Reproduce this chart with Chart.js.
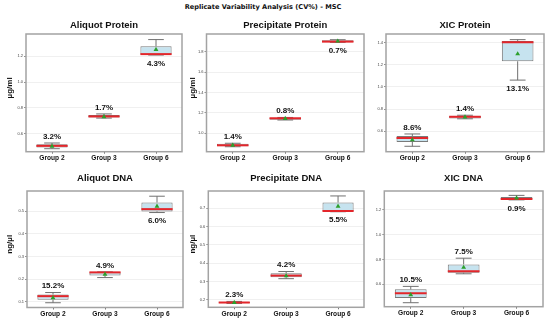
<!DOCTYPE html>
<html><head><meta charset="utf-8">
<script src="https://cdn.jsdelivr.net/npm/chart.js@4.4.1/dist/chart.umd.min.js"></script>
<style>
html,body{margin:0;padding:0;background:#fff;width:550px;height:321px;overflow:hidden;position:relative}
canvas{position:absolute}
#main{position:absolute;left:0;top:3px;width:526px;text-align:center;font-family:"DejaVu Sans";font-weight:bold;font-size:6.6px;line-height:8px;color:#111;white-space:nowrap}
</style></head><body>
<div id="main">Replicate Variability Analysis (CV%) - MSC</div>
<script>
const categories = ['Group 2', 'Group 3', 'Group 6'];
const panelTitles = ['Aliquot Protein', 'Precipitate Protein', 'XIC Protein', 'Aliquot DNA', 'Precipitate DNA', 'XIC DNA'];
const yUnits = ['µg/ml', 'µg/ml', '', 'ng/µl', 'ng/µl', ''];

// box statistics per group: [lower whisker, Q1, median, Q3, upper whisker]
const aliquotProteinBox = [[0.486, 0.495, 0.508, 0.520, 0.530], [0.722, 0.727, 0.735, 0.746, 0.754], [1.208, 1.211, 1.215, 1.275, 1.327]];
const aliquotProteinMean = [0.505, 0.732, 1.250];
const aliquotProteinCV = [3.2, 1.7, 4.3];

const precipitateProteinBox = [[0.868, 0.872, 0.882, 0.897, 0.902], [1.131, 1.134, 1.148, 1.152, 1.156], [1.895, 1.898, 1.902, 1.915, 1.921]];
const precipitateProteinMean = [0.882, 1.145, 1.906];
const precipitateProteinCV = [1.4, 0.8, 0.7];

const xicProteinBox = [[0.465, 0.504, 0.540, 0.558, 0.576], [0.713, 0.716, 0.731, 0.740, 0.745], [1.062, 1.232, 1.404, 1.415, 1.427]];
const xicProteinMean = [0.522, 0.728, 1.298];
const xicProteinCV = [8.6, 1.4, 13.1];

const aliquotDnaBox = [[0.096, 0.109, 0.125, 0.132, 0.141], [0.207, 0.216, 0.230, 0.231, 0.232], [0.494, 0.499, 0.509, 0.538, 0.566]];
const aliquotDnaMean = [0.118, 0.221, 0.521];
const aliquotDnaCV = [15.2, 4.9, 6.0];

const precipitateDnaBox = [[0.181, 0.183, 0.186, 0.190, 0.192], [0.316, 0.324, 0.333, 0.346, 0.355], [0.681, 0.682, 0.685, 0.731, 0.767]];
const precipitateDnaMean = [0.186, 0.331, 0.711];
const precipitateDnaCV = [2.3, 4.2, 5.5];

const xicDnaBox = [[0.453, 0.490, 0.528, 0.560, 0.584], [0.685, 0.693, 0.706, 0.760, 0.810], [1.278, 1.280, 1.285, 1.300, 1.314]];
const xicDnaMean = [0.517, 0.736, 1.293];
const xicDnaCV = [10.5, 7.5, 0.9];

// y axis ranges and tick labels
const yRanges = [[0.463, 1.37], [0.819, 1.977], [0.416, 1.478], [0.075, 0.589], [0.16, 0.794], [0.421, 1.349]];
const yTicks = [[0.6, 0.8, 1.0, 1.2], [1.0, 1.2, 1.4, 1.6, 1.8], [0.6, 0.8, 1.0, 1.2, 1.4], [0.1, 0.2, 0.3, 0.4, 0.5], [0.2, 0.3, 0.4, 0.5, 0.6, 0.7], [0.6, 0.8, 1.0, 1.2]];

const boxes = [aliquotProteinBox, precipitateProteinBox, xicProteinBox, aliquotDnaBox, precipitateDnaBox, xicDnaBox];
const means = [aliquotProteinMean, precipitateProteinMean, xicProteinMean, aliquotDnaMean, precipitateDnaMean, xicDnaMean];
const cvs = [aliquotProteinCV, precipitateProteinCV, xicProteinCV, aliquotDnaCV, precipitateDnaCV, xicDnaCV];

// layout geometry (plot area rectangles in page pixels)
const geoms = [
  {L: 26, R: 184, T: 34, B: 151.7, cTop: 20, unitX: 10},
  {L: 206.5, R: 365.5, T: 34, B: 151.7, cTop: 20, unitX: 192.7},
  {L: 386, R: 545.5, T: 34, B: 151.7, cTop: 20, unitX: 0},
  {L: 27, R: 185, T: 191, B: 307.5, cTop: 173, unitX: 10},
  {L: 208.3, R: 365.7, T: 191, B: 307.3, cTop: 173, unitX: 192.7},
  {L: 384.3, R: 544.3, T: 191, B: 306.7, cTop: 173, unitX: 0}
];

const boxPlugin = {
  id: 'boxExtras',
  afterDatasetDraw(chart, args, opts) {
    if (args.index !== 0) return;
    const ctx = chart.ctx, ys = chart.scales.y;
    args.meta.data.forEach((bar, i) => {
      const [lo, q1, med, q3, hi] = opts.box[i];
      const x = bar.x, w = bar.width, cap = w / 4;
      ctx.save();
      ctx.strokeStyle = '#707070';
      ctx.lineWidth = 1;
      ctx.beginPath();
      ctx.moveTo(x, ys.getPixelForValue(q3)); ctx.lineTo(x, ys.getPixelForValue(hi));
      ctx.moveTo(x, ys.getPixelForValue(q1)); ctx.lineTo(x, ys.getPixelForValue(lo));
      ctx.moveTo(x - cap, ys.getPixelForValue(hi)); ctx.lineTo(x + cap, ys.getPixelForValue(hi));
      ctx.moveTo(x - cap, ys.getPixelForValue(lo)); ctx.lineTo(x + cap, ys.getPixelForValue(lo));
      ctx.stroke();
      ctx.strokeStyle = '#e3262b';
      ctx.lineWidth = 2;
      ctx.beginPath();
      const my = ys.getPixelForValue(med);
      ctx.moveTo(x - w / 2, my); ctx.lineTo(x + w / 2, my);
      ctx.stroke();
      ctx.restore();
    });
  },
  afterDraw(chart, args, opts) {
    const ctx = chart.ctx, ys = chart.scales.y, a = chart.chartArea;
    ctx.save();
    ctx.strokeStyle = '#a3a3a3';
    ctx.lineWidth = 1.5;
    ctx.strokeRect(a.left, a.top, a.right - a.left, a.bottom - a.top);
    ctx.fillStyle = '#111';
    ctx.font = 'bold 8px "Liberation Sans"';
    ctx.textAlign = 'center';
    ctx.textBaseline = 'middle';
    chart.getDatasetMeta(0).data.forEach((bar, i) => {
      const [lo, q1, med, q3, hi] = opts.box[i];
      let y = ys.getPixelForValue(hi) - 6.5;
      if (y - 4 < a.top + 4) y = ys.getPixelForValue(lo) + 8.5;
      ctx.fillText(opts.cv[i].toFixed(1) + '%', bar.x, y);
    });
    if (opts.unit) {
      ctx.save();
      ctx.translate(opts.unitX, (a.top + a.bottom) / 2 - 5);
      ctx.rotate(-Math.PI / 2);
      ctx.font = 'bold 8px "Liberation Sans"';
      ctx.fillText(opts.unit, 0, 0);
      ctx.restore();
    }
    ctx.restore();
  }
};

function makePanel(i) {
  const g = geoms[i];
  const cLeft = Math.floor(g.L - 26);
  const cw = Math.ceil(g.R - cLeft) + 2;
  const ch = Math.ceil(g.B + 15 - g.cTop);
  const canvas = document.createElement('canvas');
  canvas.width = cw; canvas.height = ch;
  canvas.style.left = cLeft + 'px'; canvas.style.top = g.cTop + 'px';
  canvas.style.width = cw + 'px'; canvas.style.height = ch + 'px';
  document.body.appendChild(canvas);
  const yW = g.L - cLeft;
  const xH = ch - (g.B - g.cTop);
  const padR = cw - (g.R - cLeft);
  new Chart(canvas, {
    type: 'bar',
    data: {
      labels: categories,
      datasets: [
        {type: 'bar', data: boxes[i].map(b => [b[1], b[3]]), backgroundColor: '#c6e3ef', borderColor: '#7a7a7a', borderWidth: 1, borderSkipped: false, barPercentage: 0.6, categoryPercentage: 1, order: 1},
        {type: 'line', data: means[i], showLine: false, pointStyle: 'triangle', pointRadius: 2.8, pointBackgroundColor: '#2ca02c', pointBorderColor: '#2ca02c', pointBorderWidth: 0, order: 0}
      ]
    },
    options: {
      responsive: false, animation: false, devicePixelRatio: 1,
      layout: {padding: {left: 0, right: padR, top: 0, bottom: 0}},
      plugins: {
        legend: {display: false}, tooltip: {enabled: false},
        title: {display: true, text: panelTitles[i], fullSize: false, color: '#111',
          font: {family: 'Liberation Sans', size: 9.5, weight: 'bold', lineHeight: 1.2},
          padding: {top: 0, bottom: g.T - g.cTop - 11.4}},
        boxExtras: {box: boxes[i], cv: cvs[i], unit: yUnits[i], unitX: g.unitX - cLeft}
      },
      scales: {
        x: {type: 'category', offset: true,
          grid: {display: true, drawOnChartArea: false, offset: false, tickLength: 2, color: '#777'},
          border: {display: false},
          ticks: {font: {family: 'Liberation Sans', size: 6.6, weight: 'bold'}, color: '#111', padding: 1, maxRotation: 0, autoSkip: false},
          afterFit(a) { a.height = xH; }},
        y: {type: 'linear', min: yRanges[i][0], max: yRanges[i][1],
          grid: {color: '#ececec', lineWidth: 0.8, tickLength: 2, tickColor: '#777', tickWidth: 0.8},
          border: {display: false},
          afterBuildTicks(a) { a.ticks = yTicks[i].map(v => ({value: v})); },
          ticks: {font: {family: 'Liberation Sans', size: 4}, color: '#444', padding: 1, autoSkip: false, callback: v => Number(v).toFixed(1)},
          afterFit(a) { a.width = yW; }}
      }
    },
    plugins: [boxPlugin]
  });
}
for (let i = 0; i < 6; i++) makePanel(i);
</script>
</body></html>
